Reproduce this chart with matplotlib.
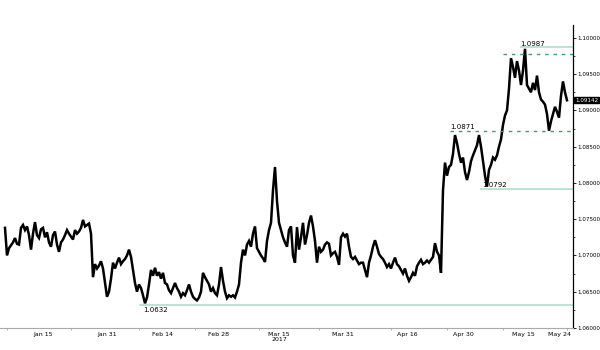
import matplotlib.pyplot as plt
import pandas as pd
from matplotlib.ticker import MultipleLocator, FormatStrFormatter

# EURUSD-style series, one reading every 12 hours from 5 Jan 2017 noon
start = '2017-01-05 12:00'
prices = [
    1.0738, 1.0700, 1.0710, 1.0714, 1.0718, 1.0724, 1.0716, 1.0715, 1.0738, 1.0742,
    1.0735, 1.0740, 1.0728, 1.0708, 1.0730, 1.0746, 1.0728, 1.0724, 1.0736, 1.0738,
    1.0725, 1.0732, 1.0718, 1.0712, 1.0728, 1.0733, 1.0715, 1.0705, 1.0718, 1.0722,
    1.0728, 1.0735, 1.0730, 1.0726, 1.0722, 1.0735, 1.0730, 1.0733, 1.0738, 1.0749,
    1.0740, 1.0742, 1.0744, 1.0730, 1.0670, 1.0688, 1.0682, 1.0686, 1.0692, 1.0682,
    1.0662, 1.0643, 1.0650, 1.0668, 1.0690, 1.0682, 1.0690, 1.0697, 1.0688, 1.0692,
    1.0695, 1.0700, 1.0708, 1.0698, 1.0680, 1.0662, 1.0650, 1.0660, 1.0655, 1.0645,
    1.0634, 1.0642, 1.0660, 1.0680, 1.0672, 1.0683, 1.0672, 1.0677, 1.0668, 1.0676,
    1.0662, 1.0660, 1.0652, 1.0648, 1.0655, 1.0662, 1.0655, 1.0650, 1.0643, 1.0648,
    1.0645, 1.0652, 1.0660, 1.0650, 1.0643, 1.0640, 1.0638, 1.0642, 1.0650, 1.0676,
    1.0670, 1.0665, 1.0660, 1.0650, 1.0655, 1.0648, 1.0645, 1.0660, 1.0684, 1.0665,
    1.0650, 1.0641, 1.0645, 1.0643, 1.0645, 1.0642, 1.0650, 1.0660, 1.0690, 1.0708,
    1.0700, 1.0715, 1.0720, 1.0712, 1.0730, 1.0740, 1.0710, 1.0705, 1.0700, 1.0696,
    1.0691, 1.0720, 1.0735, 1.0745, 1.0790, 1.0822, 1.0775, 1.0745, 1.0735, 1.0725,
    1.0718, 1.0712, 1.0735, 1.0740, 1.0700, 1.0690, 1.0739, 1.0708, 1.0725, 1.0745,
    1.0715, 1.0728, 1.0745, 1.0755, 1.0740, 1.0720, 1.0690, 1.0712, 1.0705, 1.0708,
    1.0715, 1.0718, 1.0716, 1.0700, 1.0703, 1.0705, 1.0698, 1.0687, 1.0725, 1.0730,
    1.0726, 1.0730, 1.0712, 1.0698, 1.0695, 1.0698, 1.0693, 1.0688, 1.0690, 1.0690,
    1.0680, 1.0670, 1.0690, 1.0700, 1.0712, 1.0721, 1.0712, 1.0702, 1.0698, 1.0695,
    1.0690, 1.0684, 1.0688, 1.0682, 1.0690, 1.0697, 1.0688, 1.0685, 1.0680, 1.0675,
    1.0682, 1.0672, 1.0665, 1.0670, 1.0676, 1.0672, 1.0685, 1.0690, 1.0694, 1.0688,
    1.0690, 1.0693, 1.0690, 1.0694, 1.0698, 1.0717, 1.0705, 1.0700, 1.0676, 1.0790,
    1.0828, 1.0810, 1.0822, 1.0825, 1.0840, 1.0866, 1.0855, 1.0840, 1.0828, 1.0835,
    1.0815, 1.0804, 1.0815, 1.0830, 1.0838, 1.0845, 1.0852, 1.0866, 1.0850, 1.0830,
    1.0810, 1.0795, 1.0818, 1.0825, 1.0835, 1.0832, 1.0838, 1.0850, 1.0860, 1.0880,
    1.0893, 1.0900, 1.0930, 1.0972, 1.0960, 1.0945, 1.0968, 1.0955, 1.0935, 1.0955,
    1.0985, 1.0935, 1.0930, 1.0925, 1.0938, 1.0928, 1.0948, 1.0925, 1.0915, 1.0912,
    1.0908, 1.0895, 1.0872, 1.0885, 1.0895, 1.0905, 1.0898, 1.0890, 1.0920, 1.0940,
    1.0925, 1.0914,
]
last_price = '1.09142'

# reference levels and where each line starts
solid_levels = [1.0632, 1.0792, 1.0987]
solid_starts = ['2017-02-08', '2017-05-04 06:00', '2017-05-14 06:00']
dotted_levels = [1.0871, 1.0978]
dotted_starts = ['2017-04-26 18:00', '2017-05-10']
level_labels = ['1.0632', '1.0792', '1.0987', '1.0871']

tick_dates = ['2017-01-15', '2017-01-31', '2017-02-14', '2017-02-28', '2017-03-15',
              '2017-03-31', '2017-04-16', '2017-04-30', '2017-05-15', '2017-05-24']
tick_labels = ['Jan 15', 'Jan 31', 'Feb 14', 'Feb 28', 'Mar 15\n2017',
               'Mar 31', 'Apr 16', 'Apr 30', 'May 15', 'May 24']
minor_dates = ['2017-01-06', '2017-01-22', '2017-02-08', '2017-02-22', '2017-03-10',
               '2017-03-25', '2017-04-12', '2017-04-26', '2017-05-10', '2017-05-26']

dates = pd.date_range(start=start, periods=len(prices), freq='12h')
x_left = pd.Timestamp('2017-01-04 06:00')
x_right = pd.Timestamp('2017-05-27 12:00')

fig = plt.figure(figsize=(6, 3.5), dpi=100)
ax = fig.add_axes([0.0, 0.063, 0.955, 0.866])

ax.plot(dates, prices, color='black', linewidth=1.8, solid_joinstyle='miter')

for val, s in zip(solid_levels, solid_starts):
    ax.hlines(val, pd.Timestamp(s), x_right, color='#a9dcc6', linewidth=1.1)
for val, s in zip(dotted_levels, dotted_starts):
    ax.hlines(val, pd.Timestamp(s), x_right, color='#3f9a72', linewidth=1.0,
              linestyles=(0, (2.5, 3.5)))

# level annotations
ax.text(pd.Timestamp(solid_starts[0]) + pd.Timedelta(days=1), solid_levels[0] - 0.0003,
        level_labels[0], fontsize=5, va='top', ha='left')
ax.text(pd.Timestamp(solid_starts[1]) + pd.Timedelta(hours=12), solid_levels[1] + 0.0001,
        level_labels[1], fontsize=5, va='bottom', ha='left')
ax.text(pd.Timestamp(solid_starts[2]), solid_levels[2] + 0.0001,
        level_labels[2], fontsize=5, va='bottom', ha='left')
ax.text(pd.Timestamp(dotted_starts[0]), dotted_levels[0] + 0.0002,
        level_labels[3], fontsize=5, va='bottom', ha='left')

ax.set_xlim(x_left, x_right)
ax.set_ylim(1.06, 1.1018)

# right-hand price axis
ax.yaxis.tick_right()
ax.yaxis.set_major_locator(MultipleLocator(0.005))
ax.yaxis.set_minor_locator(MultipleLocator(0.0025))
ax.yaxis.set_major_formatter(FormatStrFormatter('%.5f'))
ax.tick_params(axis='y', which='major', labelsize=4.1, length=2, width=0.6, pad=1)
ax.tick_params(axis='y', which='minor', length=1.5, width=0.5)

# date axis
ax.set_xticks(pd.to_datetime(tick_dates))
ax.set_xticklabels(tick_labels, fontsize=4.5, linespacing=0.9)
ax.set_xticks(pd.to_datetime(minor_dates), minor=True)
ax.tick_params(axis='x', which='major', length=0, pad=3)
ax.tick_params(axis='x', which='minor', length=1.5, width=0.5, color='#999999')

for side in ['left', 'top']:
    ax.spines[side].set_visible(False)
ax.spines['right'].set_linewidth(0.9)
ax.spines['bottom'].set_color('#aaaaaa')
ax.spines['bottom'].set_linewidth(0.8)

# last price box on the axis
ax.annotate(last_price, xy=(1.0, prices[-1]), xycoords=('axes fraction', 'data'),
            xytext=(1.5, 0), textcoords='offset points', fontsize=4.1, color='white',
            va='center', ha='left',
            bbox=dict(boxstyle='square,pad=0.12', facecolor='black', edgecolor='black'))

fig.savefig('out.png', dpi=100)
